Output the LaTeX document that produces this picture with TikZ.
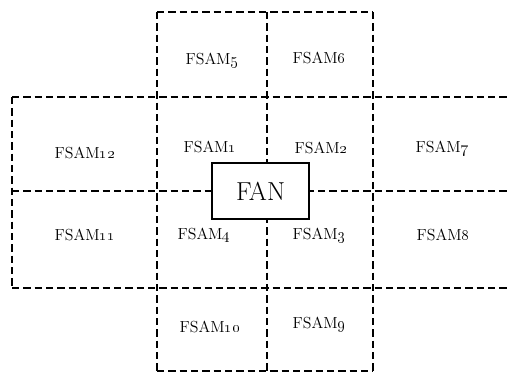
\documentclass[tikz,border=0pt]{standalone}
\usepackage{tikz}
\usetikzlibrary{positioning}

\begin{document}
\begin{tikzpicture}[
    x=0.75pt, y=-0.75pt,
    grid/.style={dashed, dash pattern=on 5.5pt off 3pt, line width=1.2pt},
    cell/.style={font=\fontsize{12}{14}\selectfont, inner sep=1pt},
    fanbox/.style={draw=black, fill=white, line width=1.2pt, minimum width=72.75pt, minimum height=42pt, font=\fontsize{19.5}{22}\selectfont}
]
    \useasboundingbox (0,0) rectangle (509,372);

    % --- Grid ---
    % rows
    \draw[grid] (157,12) -- (373,12);
    \draw[grid] (12,97) -- (507,97);
    \draw[grid] (12,191) -- (507,191);
    \draw[grid] (12,288) -- (507,288);
    \draw[grid] (157,371) -- (373,371);
    % columns
    \draw[grid] (12,97) -- (12,288);
    \draw[grid] (157,12) -- (157,371);
    \draw[grid] (267,12) -- (267,371);
    \draw[grid] (373,12) -- (373,371);

    % --- Nodes ---
    \node[fanbox] (fan) at (260.5,191) {FAN};

    % top row
    \node[cell] (fsam5) at (212,60) {FSAM\oldstylenums{5}};
    \node[cell] (fsam6) at (319,58) {FSAM\oldstylenums{6}};
    % upper middle row
    \node[cell] (fsam12) at (85,153) {FSAM\oldstylenums{12}};
    \node[cell] (fsam1) at (210,147) {FSAM\oldstylenums{1}};
    \node[cell] (fsam2) at (321,148) {FSAM\oldstylenums{2}};
    \node[cell] (fsam7) at (442,148) {FSAM\oldstylenums{7}};
    % lower middle row
    \node[cell] (fsam11) at (85,235) {FSAM\oldstylenums{11}};
    \node[cell] (fsam4) at (204,235) {FSAM\oldstylenums{4}};
    \node[cell] (fsam3) at (319,235) {FSAM\oldstylenums{3}};
    \node[cell] (fsam8) at (443,235) {FSAM\oldstylenums{8}};
    % bottom row
    \node[cell] (fsam10) at (210,327) {FSAM\oldstylenums{10}};
    \node[cell] (fsam9) at (319,324) {FSAM\oldstylenums{9}};

\end{tikzpicture}
\end{document}
